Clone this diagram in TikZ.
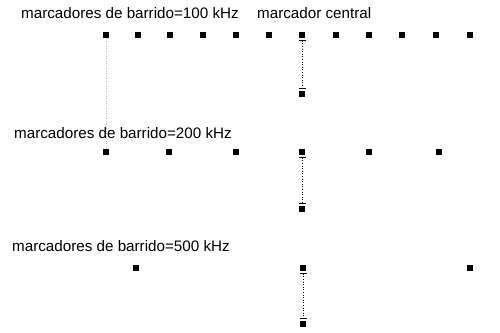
\documentclass[tikz,border=0pt]{standalone}
\usepackage{fontspec}
\setmainfont{Liberation Sans}
\usetikzlibrary{arrows.meta}
\begin{document}
\begin{tikzpicture}[x=1pt,y=-1pt,
  mk/.style={fill=black,inner sep=0pt,minimum width=6.5pt,minimum height=6.5pt},
  lbl/.style={anchor=base west,inner sep=0pt,font=\fontsize{15.2}{17}\selectfont},
  cline/.style={dash pattern=on 1pt off 1.6pt,line width=1pt,{Bar[width=7pt,line width=1.2pt]}-{Bar[width=7pt,line width=1.2pt]},shorten <=1.5pt,shorten >=1.5pt},
  faint/.style={gray!50,dotted,line width=0.5pt}]
\useasboundingbox (0,0) rectangle (500,332);
% row 1
\node[lbl] (t1) at (21,18.5) {marcadores de barrido=100 kHz};
\node[lbl] (tc) at (257,18.5) {marcador central};
\foreach \i/\x in {1/106,2/138,3/170,4/203,5/236,6/269,7/302,8/336,9/369,10/402,11/436,12/470}
  \node[mk] (a\i) at (\x,35) {};
\node[mk] (a7b) at (302,94) {};
\draw[cline] (a7.south) -- (a7b.north);
% row 2
\node[lbl] (t2) at (14,138) {marcadores de barrido=200 kHz};
\foreach \i/\x in {1/106,2/169,3/236,4/302,5/369,6/439}
  \node[mk] (b\i) at (\x,152) {};
\node[mk] (b4b) at (302,209) {};
\draw[cline] (b4.south) -- (b4b.north);
% row 3
\node[lbl] (t3) at (12,251) {marcadores de barrido=500 kHz};
\foreach \i/\x in {1/136,2/303,3/470}
  \node[mk] (c\i) at (\x,268) {};
\node[mk] (c2b) at (303,324) {};
\draw[cline] (c2.south) -- (c2b.north);
% faint guide
\draw[faint] (a1.south) -- (b1.north);
\end{tikzpicture}
\end{document}
